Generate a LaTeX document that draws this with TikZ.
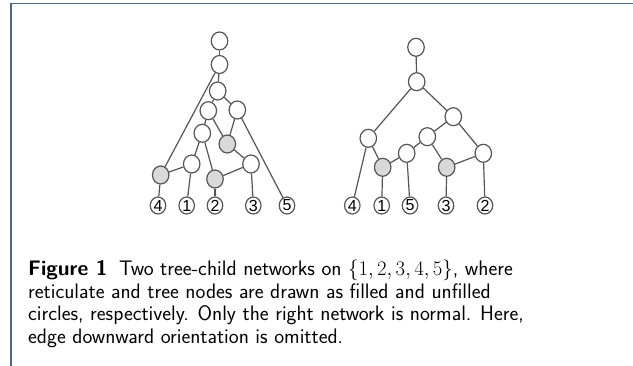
\documentclass[tikz,border=0pt]{standalone}
\usepackage{fontspec}
\newfontfamily\leaffont{Liberation Sans}
\usetikzlibrary{shapes.geometric}
\definecolor{framecol}{RGB}{78,104,134}
\definecolor{edgecol}{RGB}{85,85,85}
\definecolor{retfill}{RGB}{217,217,217}
\tikzset{
  inner/.style={ellipse, draw=edgecol, line width=1.2pt, fill=white, minimum width=16.5pt, minimum height=18pt, inner sep=0pt},
  ret/.style={inner, fill=retfill},
  leaf/.style={ellipse, draw=edgecol, line width=1.2pt, fill=white, minimum width=15.5pt, minimum height=17pt, inner sep=0pt, font=\leaffont\fontsize{16}{16}\selectfont},
  edge/.style={draw=edgecol, line width=1.2pt},
  capline/.style={anchor=base west, inner sep=0pt, font=\sffamily\fontsize{21}{22}\selectfont}
}
\begin{document}
\begin{tikzpicture}[x=1pt,y=-1pt]
\useasboundingbox (0,0) rectangle (633,366);
\draw[framecol, line width=1.5pt] (11,366) -- (11,3.5) -- (633,3.5);
% left network
\node[inner] (a1) at (219.5,41) {};
\node[inner] (a2) at (219.5,64.5) {};
\node[inner] (a3) at (217.7,91) {};
\node[inner] (a4) at (208.3,110.7) {};
\node[inner] (a5) at (237.3,110) {};
\node[inner] (a6) at (202.3,133.3) {};
\node[ret] (aA) at (227.3,144) {};
\node[inner] (a7) at (191.7,164) {};
\node[inner] (a8) at (251,164) {};
\node[ret] (aB) at (160.7,175) {};
\node[ret] (aC) at (215,179) {};
\node[leaf] (aL4) at (158,205.5) {4};
\node[leaf] (aL1) at (186.7,205.5) {1};
\node[leaf] (aL2) at (215,205.5) {2};
\node[leaf] (aL3) at (253.3,205.5) {3};
\node[leaf] (aL5) at (287,205.5) {5};
\draw[edge] (a1) -- (a2);
\draw[edge] (a2) -- (a3);
\draw[edge] (a2) -- (aB);
\draw[edge] (a3) -- (a4);
\draw[edge] (a3) -- (a5);
\draw[edge] (a4) -- (a6);
\draw[edge] (a4) -- (aA);
\draw[edge] (a5) -- (aA);
\draw[edge] (a5) -- (aL5);
\draw[edge] (a6) -- (a7);
\draw[edge] (a6) -- (aC);
\draw[edge] (aA) -- (a8);
\draw[edge] (a7) -- (aB);
\draw[edge] (a7) -- (aL1);
\draw[edge] (a8) -- (aC);
\draw[edge] (a8) -- (aL3);
\draw[edge] (aB) -- (aL4);
\draw[edge] (aC) -- (aL2);
% right network
\node[inner] (b1) at (416,47.3) {};
\node[inner] (b2) at (416.7,81.7) {};
\node[inner] (b3) at (453.3,116.7) {};
\node[inner] (b4) at (368.3,138.3) {};
\node[inner] (b5) at (427.3,136.7) {};
\node[inner] (b6) at (406.7,153.3) {};
\node[inner] (b7) at (483.3,153.3) {};
\node[ret] (bA) at (382.7,167.3) {};
\node[ret] (bB) at (446.7,167.3) {};
\node[leaf] (bL4) at (352.3,205.5) {4};
\node[leaf] (bL1) at (381.7,205.5) {1};
\node[leaf] (bL5) at (410,205.5) {5};
\node[leaf] (bL3) at (446,205.5) {3};
\node[leaf] (bL2) at (485,205.5) {2};
\draw[edge] (b1) -- (b2);
\draw[edge] (b2) -- (b4);
\draw[edge] (b2) -- (b3);
\draw[edge] (b4) -- (bL4);
\draw[edge] (b4) -- (bA);
\draw[edge] (b3) -- (b5);
\draw[edge] (b3) -- (b7);
\draw[edge] (b5) -- (b6);
\draw[edge] (b5) -- (bB);
\draw[edge] (b6) -- (bA);
\draw[edge] (b6) -- (bL5);
\draw[edge] (b7) -- (bB);
\draw[edge] (b7) -- (bL2);
\draw[edge] (bA) -- (bL1);
\draw[edge] (bB) -- (bL3);
% caption
\node[capline] (c1) at (28,275.7) {\textbf{Figure 1}\hspace{0.55em}Two tree-child networks on $\{1,2,3,4,5\}$, where};
\node[capline] (c2) at (28,298.5) {reticulate and tree nodes are drawn as filled and unfilled};
\node[capline] (c3) at (28,321) {circles, respectively. Only the right network is normal. Here,};
\node[capline] (c4) at (28,343.5) {edge downward orientation is omitted.};
\end{tikzpicture}
\end{document}
